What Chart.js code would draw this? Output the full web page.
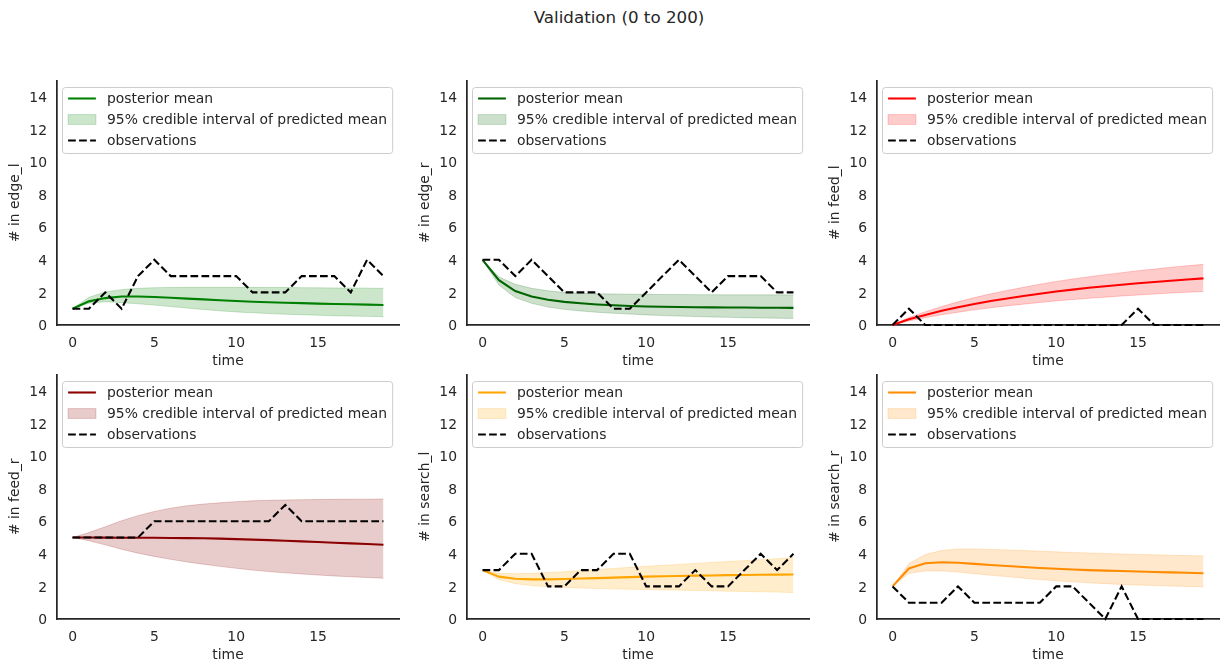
<!DOCTYPE html>
<html><head><meta charset="utf-8">
<script src="https://cdn.jsdelivr.net/npm/chart.js@4.4.0/dist/chart.umd.min.js"></script>
<style>
html,body{margin:0;padding:0;background:#fff;}
body{width:1229px;height:672px;position:relative;overflow:hidden;font-family:"DejaVu Sans";}
canvas{position:absolute;}
#title{position:absolute;left:0;width:1238px;top:7px;line-height:20px;text-align:center;font-size:16.7px;color:#262626;font-family:"DejaVu Sans";}
</style></head><body>
<div id="title">Validation (0 to 200)</div>
<canvas id="c0" width="410" height="300" style="left:0px;top:70px"></canvas>
<canvas id="c1" width="410" height="300" style="left:410px;top:70px"></canvas>
<canvas id="c2" width="410" height="300" style="left:820px;top:70px"></canvas>
<canvas id="c3" width="410" height="300" style="left:0px;top:364px"></canvas>
<canvas id="c4" width="410" height="300" style="left:410px;top:364px"></canvas>
<canvas id="c5" width="410" height="300" style="left:820px;top:364px"></canvas>
<script>
const time = [0,1,2,3,4,5,6,7,8,9,10,11,12,13,14,15,16,17,18,19];
const xTicks = [0,5,10,15];
const yTicks = [0,2,4,6,8,10,12,14];
const legendLabels = ['posterior mean','95% credible interval of predicted mean','observations'];

const edgeLObs   = [1,1,2,1,3,4,3,3,3,3,3,2,2,2,3,3,3,2,4,3];
const edgeLMean  = [1.0,1.45,1.65,1.75,1.75,1.72,1.67,1.62,1.57,1.52,1.47,1.43,1.40,1.37,1.34,1.31,1.29,1.27,1.25,1.23];
const edgeLUpper = [1.0,1.7,2.03,2.17,2.25,2.29,2.3,2.31,2.31,2.31,2.31,2.31,2.3,2.3,2.29,2.28,2.27,2.27,2.26,2.25];
const edgeLLower = [1.0,1.33,1.43,1.37,1.3,1.22,1.13,1.04,0.95,0.87,0.8,0.75,0.7,0.66,0.63,0.6,0.57,0.55,0.53,0.51];

const edgeRObs   = [4,4,3,4,3,2,2,2,1,1,2,3,4,3,2,3,3,3,2,2];
const edgeRMean  = [4,2.75,2.08,1.75,1.55,1.42,1.33,1.26,1.21,1.17,1.14,1.12,1.1,1.09,1.08,1.07,1.07,1.06,1.06,1.05];
const edgeRUpper = [4,2.95,2.5,2.25,2.1,2.0,1.95,1.92,1.9,1.89,1.88,1.87,1.87,1.86,1.86,1.85,1.85,1.85,1.85,1.84];
const edgeRLower = [4,2.45,1.68,1.33,1.1,0.96,0.86,0.78,0.72,0.67,0.62,0.58,0.55,0.52,0.49,0.47,0.45,0.43,0.42,0.4];

const feedLObs   = [0,1,0,0,0,0,0,0,0,0,0,0,0,0,0,1,0,0,0,0];
const feedLMean  = [0,0.35,0.62,0.87,1.09,1.29,1.47,1.63,1.78,1.92,2.05,2.17,2.28,2.38,2.47,2.56,2.64,2.72,2.79,2.86];
const feedLUpper = [0,0.46,0.81,1.13,1.42,1.68,1.91,2.12,2.31,2.5,2.67,2.82,2.96,3.09,3.21,3.33,3.43,3.54,3.63,3.72];
const feedLLower = [0,0.25,0.45,0.63,0.78,0.93,1.06,1.17,1.28,1.38,1.48,1.56,1.64,1.71,1.78,1.84,1.9,1.96,2.01,2.06];

const feedRObs   = [5,5,5,5,5,6,6,6,6,6,6,6,6,7,6,6,6,6,6,6];
const feedRMean  = [5,5,4.99,4.98,4.98,4.98,4.97,4.96,4.95,4.93,4.9,4.87,4.84,4.8,4.76,4.72,4.68,4.64,4.6,4.55];
const feedRUpper = [5,5.3,5.66,6.03,6.34,6.6,6.8,6.95,7.05,7.13,7.2,7.25,7.28,7.3,7.32,7.33,7.34,7.35,7.35,7.36];
const feedRLower = [5,4.8,4.55,4.28,4.04,3.84,3.66,3.5,3.36,3.23,3.11,3.0,2.91,2.83,2.76,2.7,2.64,2.59,2.55,2.5];

const searchLObs   = [3,3,4,4,2,2,3,3,4,4,2,2,2,3,2,2,3,4,3,4];
const searchLMean  = [3,2.6,2.47,2.43,2.43,2.45,2.48,2.51,2.54,2.57,2.6,2.62,2.64,2.66,2.67,2.69,2.7,2.71,2.72,2.73];
const searchLUpper = [3,2.8,2.78,2.8,2.85,2.9,2.97,3.04,3.1,3.17,3.23,3.29,3.35,3.41,3.47,3.53,3.58,3.64,3.7,3.76];
const searchLLower = [3,2.42,2.17,2.05,1.98,1.93,1.9,1.87,1.85,1.83,1.81,1.79,1.77,1.75,1.73,1.71,1.69,1.67,1.65,1.62];

const searchRObs   = [2,1,1,1,2,1,1,1,1,1,2,2,1,0,2,0,0,0,0,0];
const searchRMean  = [2,3.1,3.42,3.48,3.45,3.38,3.31,3.25,3.19,3.13,3.08,3.04,3.0,2.97,2.94,2.91,2.88,2.86,2.84,2.81];
const searchRUpper = [2,3.4,3.95,4.2,4.3,4.3,4.27,4.24,4.2,4.16,4.12,4.08,4.05,4.02,3.99,3.96,3.94,3.91,3.89,3.87];
const searchRLower = [2,2.8,2.95,2.95,2.88,2.78,2.68,2.6,2.5,2.42,2.34,2.28,2.22,2.17,2.12,2.08,2.05,2.02,2.0,1.98];

const TXT = '#262626';
const FS = 13.9;
const FONT = {family:'DejaVu Sans', size:FS};
const LW = 2.08;

const mplLegend = {
  id:'mplLegend',
  afterDraw(chart, args, opts){
    const {ctx, chartArea} = chart;
    ctx.save();
    ctx.font = FS + 'px "DejaVu Sans"';
    const tw = Math.max(...opts.labels.map(l => ctx.measureText(l).width));
    const x0 = chartArea.left + 5.5, y0 = chartArea.top + 7;
    const w = 44.5 + tw + 5.6, h = 66, r = 3;
    ctx.beginPath();
    ctx.moveTo(x0+r, y0); ctx.lineTo(x0+w-r, y0); ctx.arcTo(x0+w, y0, x0+w, y0+r, r);
    ctx.lineTo(x0+w, y0+h-r); ctx.arcTo(x0+w, y0+h, x0+w-r, y0+h, r);
    ctx.lineTo(x0+r, y0+h); ctx.arcTo(x0, y0+h, x0, y0+h-r, r);
    ctx.lineTo(x0, y0+r); ctx.arcTo(x0, y0, x0+r, y0, r);
    ctx.closePath();
    ctx.fillStyle = 'rgba(255,255,255,0.8)'; ctx.fill();
    ctx.strokeStyle = '#cccccc'; ctx.lineWidth = 1; ctx.stroke();
    const rows = [y0+11, y0+32, y0+53];
    const hx0 = x0 + 5.6, hx1 = hx0 + 27.8;
    ctx.beginPath(); ctx.moveTo(hx0, rows[0]); ctx.lineTo(hx1, rows[0]);
    ctx.strokeStyle = opts.color; ctx.lineWidth = LW; ctx.setLineDash([]); ctx.stroke();
    ctx.fillStyle = opts.band; ctx.fillRect(hx0, rows[1]-4.9, 27.8, 9.8);
    ctx.strokeStyle = opts.band; ctx.lineWidth = 1; ctx.strokeRect(hx0, rows[1]-4.9, 27.8, 9.8);
    ctx.beginPath(); ctx.moveTo(hx0, rows[2]); ctx.lineTo(hx1, rows[2]);
    ctx.strokeStyle = '#000'; ctx.lineWidth = LW; ctx.setLineDash([7.7,3.3]); ctx.stroke();
    ctx.setLineDash([]);
    ctx.fillStyle = TXT; ctx.textBaseline = 'middle'; ctx.textAlign = 'left';
    opts.labels.forEach((l,i) => ctx.fillText(l, x0 + 44.5, rows[i] + 1));
    ctx.restore();
  }
};

function pts(arr){ return time.map((t,i) => ({x:t, y:arr[i]})); }

function makeChart(id, color, rgb, mean, upper, lower, obs, ylabel){
  const band = 'rgba(' + rgb + ',0.2)';
  return new Chart(document.getElementById(id), {
    type:'line',
    data:{datasets:[
      {data:pts(mean), borderColor:color, borderWidth:LW, pointRadius:0, fill:false, order:1, tension:0, clip:false},
      {data:pts(upper), borderColor:band, borderWidth:1, pointRadius:0, fill:'+1', backgroundColor:band, order:2, tension:0, clip:false},
      {data:pts(lower), borderColor:band, borderWidth:1, pointRadius:0, fill:false, order:2, tension:0, clip:false},
      {data:pts(obs), borderColor:'#000', borderWidth:LW, borderDash:[7.7,3.3], pointRadius:0, fill:false, order:0, tension:0, clip:false}
    ]},
    options:{
      responsive:false, animation:false, devicePixelRatio:1, events:[],
      layout:{padding:{top:10.5, right:11, left:0, bottom:0}},
      plugins:{legend:{display:false}, tooltip:{enabled:false},
        mplLegend:{labels:legendLabels, color:color, band:band}},
      scales:{
        x:{type:'linear', min:-0.95, max:19.95,
          afterBuildTicks:s => { s.ticks = xTicks.map(v => ({value:v})); },
          afterFit:s => { s.height = 45; s.paddingLeft=0; s.paddingRight=0; s.paddingTop=0; s.paddingBottom=0; },
          grid:{display:true, drawOnChartArea:false, drawTicks:false},
          border:{display:true, color:TXT, width:1.74},
          ticks:{padding:10.5, color:TXT, font:FONT, maxRotation:0, autoSkip:false},
          title:{display:true, text:'time', color:TXT, font:FONT, padding:{top:0, bottom:0.5}}
        },
        y:{type:'linear', min:0, max:15,
          afterBuildTicks:s => { s.ticks = yTicks.map(v => ({value:v})); },
          afterFit:s => { s.width = 57; s.paddingLeft=0; s.paddingRight=0; s.paddingTop=0; s.paddingBottom=0; },
          grid:{display:true, drawOnChartArea:false, drawTicks:false},
          border:{display:true, color:TXT, width:1.74},
          ticks:{padding:10, color:TXT, font:FONT, autoSkip:false, labelOffset:1.5},
          title:{display:true, text:ylabel, color:TXT, font:FONT, padding:{top:7, bottom:0}}
        }
      }
    },
    plugins:[mplLegend]
  });
}

makeChart('c0', '#008000', '0,128,0', edgeLMean, edgeLUpper, edgeLLower, edgeLObs, '# in edge_l');
makeChart('c1', '#006400', '0,100,0', edgeRMean, edgeRUpper, edgeRLower, edgeRObs, '# in edge_r');
makeChart('c2', '#ff0000', '255,0,0', feedLMean, feedLUpper, feedLLower, feedLObs, '# in feed_l');
makeChart('c3', '#8b0000', '139,0,0', feedRMean, feedRUpper, feedRLower, feedRObs, '# in feed_r');
makeChart('c4', '#ffa500', '255,165,0', searchLMean, searchLUpper, searchLLower, searchLObs, '# in search_l');
makeChart('c5', '#ff8c00', '255,140,0', searchRMean, searchRUpper, searchRLower, searchRObs, '# in search_r');
</script>
</body></html>
